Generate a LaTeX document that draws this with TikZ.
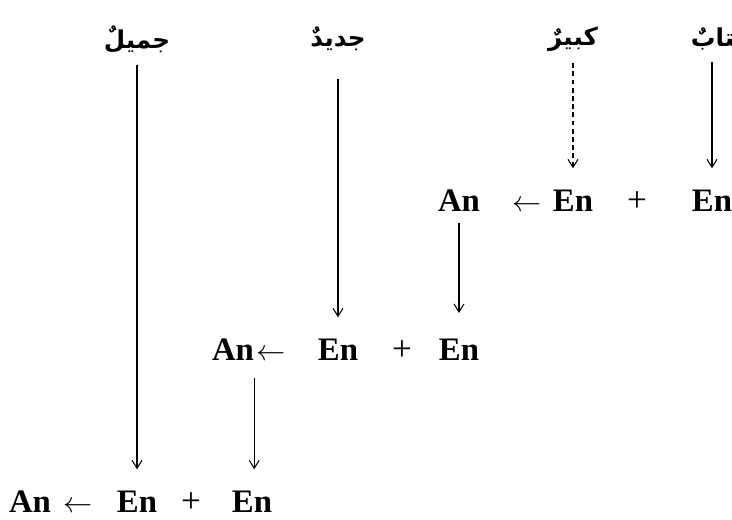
\documentclass[tikz,border=0pt]{standalone}
\usepackage{fontspec}
\setmainfont{Liberation Serif}
\newfontfamily\arabicfont[Script=Arabic]{DejaVu Sans}
\TeXXeTstate=1
\usetikzlibrary{arrows.meta}

\begin{document}
\begin{tikzpicture}[
        x=0.03cm, y=-0.03cm,
        >={Straight Barb[length=2.4mm,width=3mm]},
        % Kiểu chữ
        word/.style={font=\arabicfont\bfseries\fontsize{21}{25}\selectfont, inner sep=0pt},
        term/.style={font=\bfseries\fontsize{28}{33}\selectfont, inner sep=0pt, text height=18.5pt, text depth=0pt},
        sign/.style={term, font=\fontsize{30}{34}\selectfont},
        % Kiểu mũi tên
        arrow/.style={->, line width=0.9pt, shorten <=0.45cm, shorten >=0.65cm},
        dasharrow/.style={arrow, dash pattern=on 4pt off 3pt}
    ]
    \useasboundingbox (0,0) rectangle (732,519);

    % --- từ Arabic ---
    \node[word] (jamil) at (137,39) {\beginR جميلٌ\endR};
    \node[word] (jadid) at (338,39) {\beginR جديدٌ\endR};
    \node[word] (kabir) at (573,39) {\beginR كبيرٌ\endR};
    \node[word] (kitab) at (720,39) {\beginR كتابٌ\endR};

    % --- hàng 1 ---
    \node[term] (an1) at (459,201) {An};
    \node[sign] (to1) at (527,201) {$\leftarrow$};
    \node[term] (en1a) at (573,201) {En};
    \node[sign] (plus1) at (637,201) {+};
    \node[term] (en1b) at (712,201) {En};

    % --- hàng 2 ---
    \node[term] (an2) at (233,350) {An};
    \node[sign] (to2) at (271,350) {$\leftarrow$};
    \node[term] (en2a) at (338,350) {En};
    \node[sign] (plus2) at (402,350) {+};
    \node[term] (en2b) at (459,350) {En};

    % --- hàng 3 ---
    \node[term] (an3) at (30,502) {An};
    \node[sign] (to3) at (78,502) {$\leftarrow$};
    \node[term] (en3a) at (137,502) {En};
    \node[sign] (plus3) at (191,502) {+};
    \node[term] (en3b) at (252,502) {En};

    % --- mũi tên ---
    \draw[arrow, shorten <=0.35cm] (kitab.south -| en1b.north) -- (en1b.north);
    \draw[dasharrow, shorten <=0.35cm] (kabir.south) -- (en1a.north);
    \draw[arrow, shorten <=0.85cm] (jadid.south) -- (en2a.north);
    \draw[arrow, shorten <=0.33cm, shorten >=0.78cm] (an1.south) -- (en2b.north);
    \draw[arrow, shorten <=0.35cm] (jamil.south) -- (en3a.north);
    \draw[arrow, shorten <=0.5cm] (an2.south east) -- (an2.south east |- en3b.north);

\end{tikzpicture}
\end{document}
